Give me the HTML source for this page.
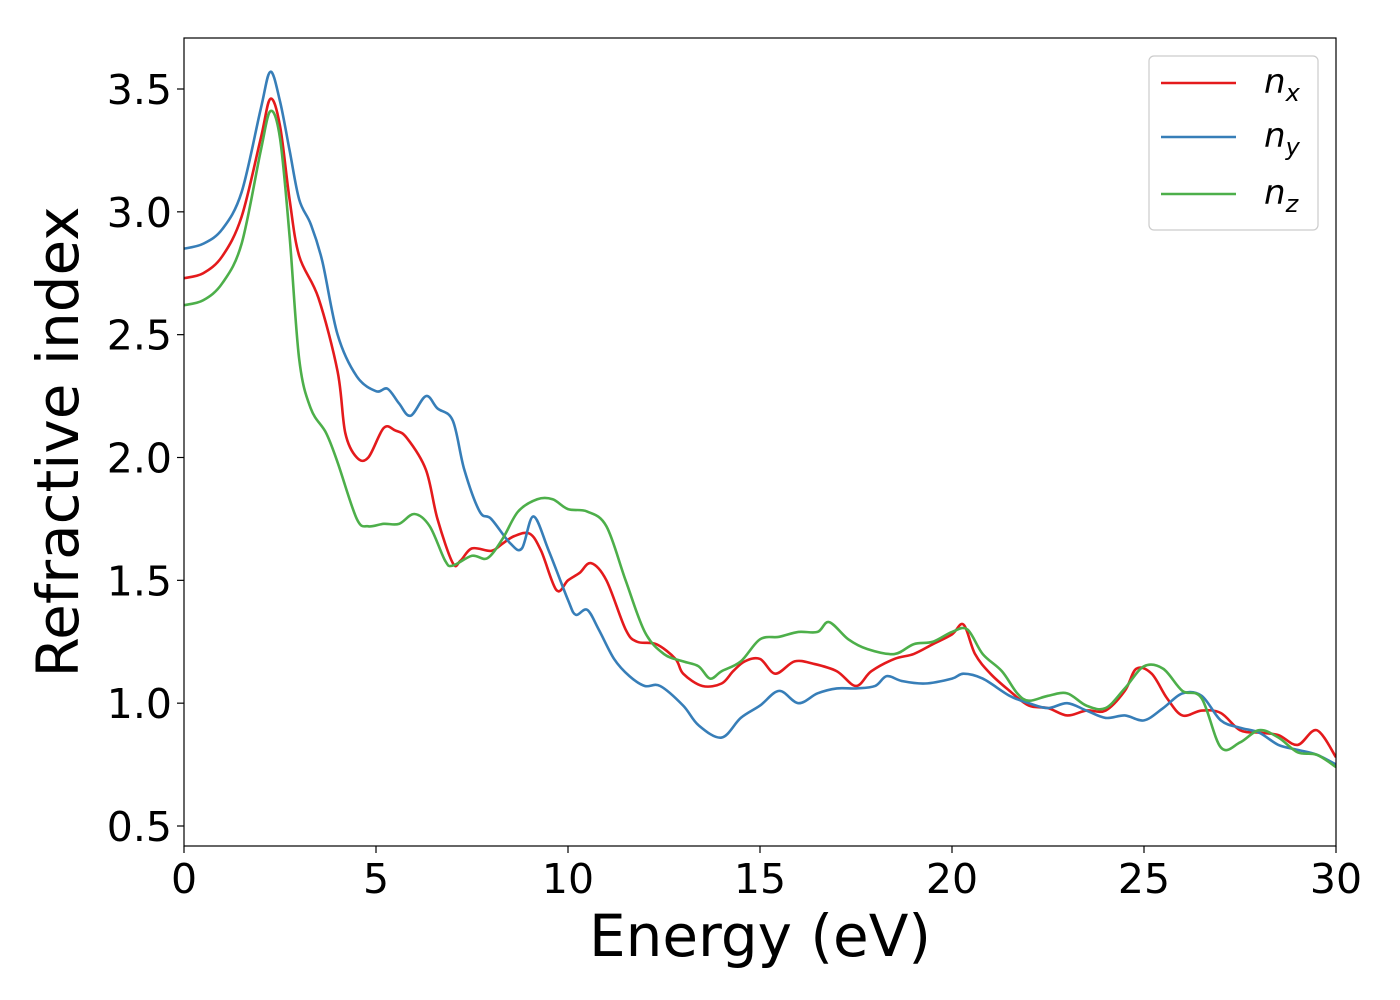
<!DOCTYPE html>
<html><head><meta charset="utf-8"><style>
body{margin:0;background:#fff;}
svg{display:block;font-family:"DejaVu Sans","Liberation Sans",sans-serif;}
</style></head><body>
<svg id="chart" width="1400" height="1000"></svg>
<script>
const xTicks=[0,5,10,15,20,25,30];
const yTicks=[0.5,1.0,1.5,2.0,2.5,3.0,3.5];
const yTickLabels=["0.5","1.0","1.5","2.0","2.5","3.0","3.5"];
const nxE=[0,0.5,1,1.5,2,2.25,2.5,2.75,3,3.5,4,4.2,4.5,4.8,5.2,5.5,5.8,6.3,6.6,7,7.2,7.5,8,8.3,8.6,9,9.3,9.7,10,10.3,10.6,11,11.5,11.8,12.3,12.8,13,13.5,14,14.3,14.6,15,15.4,15.9,16.4,17,17.5,17.9,18.5,19,19.5,20,20.3,20.6,21,21.5,22,22.5,23,23.5,24,24.5,24.8,25.2,25.6,26,26.5,27,27.5,28,28.5,29,29.5,30];
const nxV=[2.73,2.75,2.82,2.98,3.3,3.46,3.35,3.05,2.82,2.65,2.35,2.1,2.0,2.0,2.12,2.11,2.08,1.95,1.75,1.57,1.58,1.63,1.62,1.65,1.68,1.69,1.62,1.46,1.5,1.53,1.57,1.5,1.3,1.25,1.24,1.18,1.12,1.07,1.08,1.13,1.17,1.18,1.12,1.17,1.16,1.13,1.07,1.13,1.18,1.2,1.24,1.28,1.32,1.2,1.12,1.05,0.99,0.98,0.95,0.97,0.97,1.05,1.14,1.12,1.02,0.95,0.97,0.96,0.89,0.88,0.87,0.83,0.89,0.78];
const nyE=[0,0.5,1,1.5,2,2.25,2.5,2.75,3,3.3,3.6,4,4.5,5,5.3,5.6,5.9,6.3,6.6,7,7.3,7.7,8,8.5,8.8,9.1,9.5,10,10.2,10.5,10.8,11.2,11.6,12,12.4,13,13.4,14,14.5,15,15.5,16,16.5,17,17.5,18,18.3,18.7,19.3,20,20.3,20.8,21.5,22,22.5,23,23.5,24,24.5,25,25.5,26,26.5,27,27.5,28,28.5,29,29.5,30];
const nyV=[2.85,2.87,2.93,3.08,3.42,3.57,3.45,3.25,3.05,2.95,2.8,2.5,2.33,2.27,2.28,2.22,2.17,2.25,2.2,2.15,1.95,1.78,1.75,1.65,1.63,1.76,1.62,1.42,1.36,1.38,1.3,1.18,1.11,1.07,1.07,0.99,0.91,0.86,0.94,0.99,1.05,1.0,1.04,1.06,1.06,1.07,1.11,1.09,1.08,1.1,1.12,1.1,1.03,1.0,0.98,1.0,0.97,0.94,0.95,0.93,0.98,1.04,1.03,0.93,0.9,0.88,0.83,0.81,0.79,0.75];
const nzE=[0,0.5,1,1.5,2,2.25,2.5,2.75,3,3.3,3.7,4,4.5,4.8,5.2,5.6,6,6.4,6.8,7,7.5,7.9,8.3,8.7,9.2,9.6,10,10.5,11,11.5,12,12.5,13,13.4,13.7,14,14.5,15,15.5,16,16.5,16.8,17.3,17.8,18.5,19,19.5,20,20.4,20.8,21.3,21.7,22,22.5,23,23.5,24,24.5,25,25.5,26,26.5,27,27.5,28,28.5,29,29.5,30];
const nzV=[2.62,2.64,2.71,2.87,3.25,3.41,3.3,2.9,2.4,2.2,2.1,1.98,1.75,1.72,1.73,1.73,1.77,1.72,1.58,1.56,1.6,1.59,1.67,1.78,1.83,1.83,1.79,1.78,1.72,1.5,1.29,1.2,1.17,1.15,1.1,1.13,1.17,1.26,1.27,1.29,1.29,1.33,1.26,1.22,1.2,1.24,1.25,1.29,1.3,1.2,1.13,1.04,1.01,1.03,1.04,0.99,0.98,1.06,1.15,1.14,1.05,1.02,0.82,0.84,0.89,0.86,0.8,0.79,0.74];

const L=184,R=1336,T=38,B=846;
const X=v=>L+(v-0)/30*(R-L);
const Y=v=>826-(v-0.5)*(826-89)/3;
const svg=document.getElementById('chart');
const NS='http://www.w3.org/2000/svg';
function mk(tag,attrs,parent){const e=document.createElementNS(NS,tag);for(const k in attrs)e.setAttribute(k,attrs[k]);(parent||svg).appendChild(e);return e;}

const defs=mk('defs',{});
const cp=mk('clipPath',{id:'clip'},defs);
mk('rect',{x:L,y:T,width:R-L,height:B-T},cp);

function path(E,V){
  const p=E.map((e,i)=>[X(e),Y(V[i])]);
  let d='M'+p[0][0]+','+p[0][1];
  for(let i=0;i<p.length-1;i++){
    const p0=p[Math.max(0,i-1)],p1=p[i],p2=p[i+1],p3=p[Math.min(p.length-1,i+2)];
    const c1=[p1[0]+(p2[0]-p0[0])/6,p1[1]+(p2[1]-p0[1])/6];
    const c2=[p2[0]-(p3[0]-p1[0])/6,p2[1]-(p3[1]-p1[1])/6];
    d+=`C${c1[0]},${c1[1]} ${c2[0]},${c2[1]} ${p2[0]},${p2[1]}`;
  }
  return d;
}
const g=mk('g',{'clip-path':'url(#clip)'});
const series=[[nxE,nxV,'#e41a1c','series-nx'],[nyE,nyV,'#377eb8','series-ny'],[nzE,nzV,'#4daf4a','series-nz']];
series.forEach(s=>{
  const e=mk('path',{d:path(s[0],s[1]),fill:'none',stroke:s[2],'stroke-width':2.6,'stroke-linejoin':'round'},g);
  
  
});

const frame=mk('rect',{x:L,y:T,width:R-L,height:B-T,fill:'none',stroke:'#000','stroke-width':1.2});



xTicks.forEach(v=>{
  mk('line',{x1:X(v),x2:X(v),y1:B,y2:B+7,stroke:'#000','stroke-width':1.2});
  const t=mk('text',{x:X(v),y:B+47,'text-anchor':'middle','font-size':41});
  t.textContent=v;
  
  
});
yTicks.forEach((v,i)=>{
  mk('line',{x1:L-7,x2:L,y1:Y(v),y2:Y(v),stroke:'#000','stroke-width':1.2});
  const t=mk('text',{x:L-12,y:Y(v)+15,'text-anchor':'end','font-size':41});
  t.textContent=yTickLabels[i];
  
  
});
const xt=mk('text',{x:760,y:956,'text-anchor':'middle','font-size':58});
xt.textContent='Energy (eV)';


const yt=mk('text',{x:0,y:0,'text-anchor':'middle','font-size':58,transform:'translate(78,442) rotate(-90)'});
yt.textContent='Refractive index';



const lg=mk('g',{});


mk('rect',{x:1149,y:56,width:169,height:174,rx:5,fill:'#fff',stroke:'#ccc','stroke-width':1.2},lg);
const labs=[['x',83,'#e41a1c'],['y',137,'#377eb8'],['z',194,'#4daf4a']];
labs.forEach(l=>{
  const row=mk('g',{},lg);
  
  
  mk('line',{x1:1161,x2:1236,y1:l[1],y2:l[1],stroke:l[2],'stroke-width':2.6},row);
  const t=mk('text',{x:1264,y:l[1]+10,'font-size':34,'font-style':'italic'},row);
  t.textContent='n';
  const s=mk('tspan',{dy:8,'font-size':24},t);
  s.textContent=l[0];
});
</script>
</body></html>
